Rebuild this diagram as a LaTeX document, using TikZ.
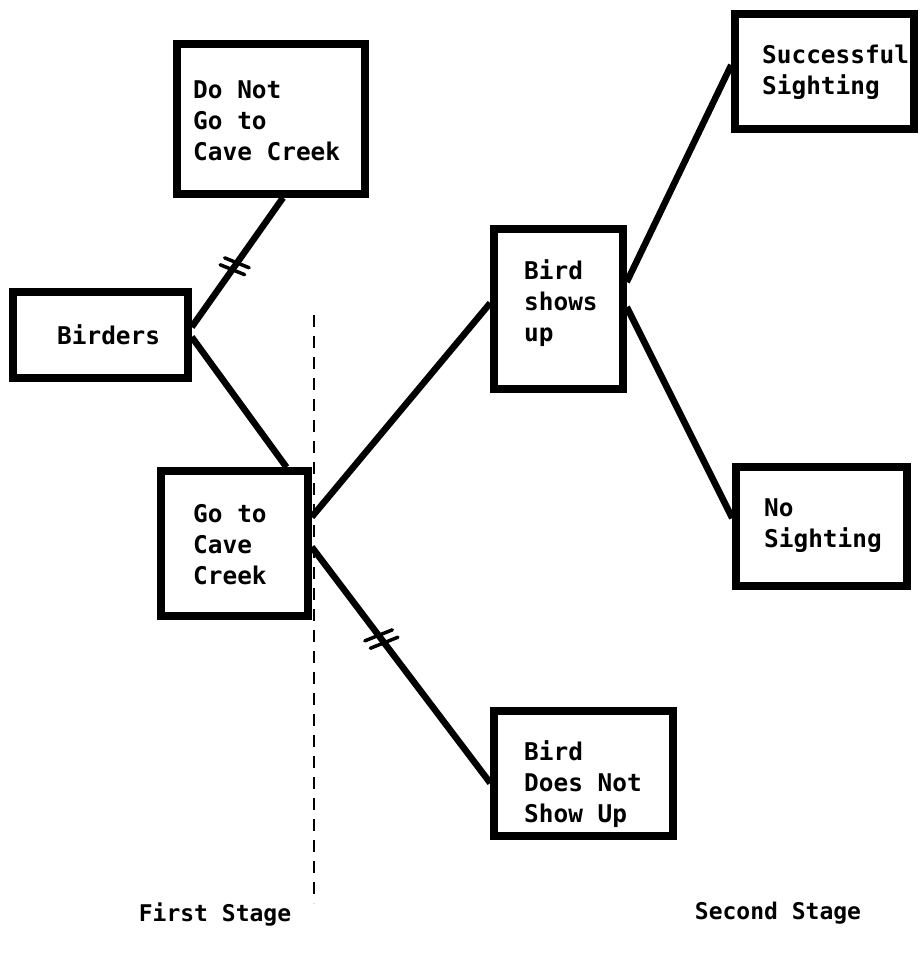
\documentclass[tikz,border=0pt]{standalone}
\usepackage{fontspec}
\newfontfamily\diagfont{DejaVu Sans Mono}
\usetikzlibrary{calc}
\tikzset{
  box/.style={draw, line width=7.5pt, rectangle, inner sep=0pt},
  boxtext/.style={anchor=west, inner sep=0pt, align=left,
    font=\diagfont\bfseries\fontsize{24.4}{31}\selectfont},
  conn/.style={line width=6.5pt},
  hashstroke/.style={line width=3.5pt, line cap=round},
  stagedash/.style={line width=2.5pt, dash pattern=on 12pt off 9pt},
  stagelabel/.style={anchor=base, inner sep=0pt, font=\diagfont\bfseries\fontsize{23}{28}\selectfont}
}
\begin{document}
\begin{tikzpicture}[x=1pt,y=-1pt]
\useasboundingbox (0,0) rectangle (921,956);
% boxes (centre, stroke-centre size)
\node[box, minimum width=188pt, minimum height=150pt] (donot) at (271,119) {};
\node[box, minimum width=175pt, minimum height=86pt] (birders) at (100.5,335) {};
\node[box, minimum width=147pt, minimum height=145pt] (gocc) at (234.5,543.5) {};
\node[box, minimum width=129pt, minimum height=160pt] (shows) at (558.5,309) {};
\node[box, minimum width=179pt, minimum height=115pt] (succ) at (824.5,71.5) {};
\node[box, minimum width=171pt, minimum height=119pt] (nosight) at (821.5,526.5) {};
\node[box, minimum width=179pt, minimum height=125pt] (bdns) at (583.5,773.5) {};
% box texts
\node[boxtext] (donot-t) at (193,121) {Do Not\\Go to\\Cave Creek};
\node[boxtext] (birders-t) at (57,335) {Birders};
\node[boxtext] (gocc-t) at (193,545) {Go to\\Cave\\Creek};
\node[boxtext] (shows-t) at (524,303) {Bird\\shows\\up};
\node[boxtext] (succ-t) at (762,72) {Successful\\Sighting};
\node[boxtext] (nosight-t) at (764,526) {No\\Sighting};
\node[boxtext] (bdns-t) at (524,784) {Bird\\Does Not\\Show Up};
% connector end points
\coordinate (bA) at ([yshift=8pt]birders.east);
\coordinate (bB) at ([yshift=-2pt]birders.east);
\coordinate (dS) at ([xshift=12pt]donot.south);
\coordinate (gN) at ([xshift=52pt]gocc.north);
\coordinate (gA) at ([yshift=26.5pt]gocc.east);
\coordinate (gB) at ([yshift=-3.5pt]gocc.east);
\coordinate (sW) at ([yshift=6pt]shows.west);
\coordinate (sA) at ([yshift=27pt]shows.east);
\coordinate (sB) at ([yshift=2pt]shows.east);
\coordinate (suW) at ([yshift=6.5pt]succ.west);
\coordinate (nW) at ([yshift=8.5pt]nosight.west);
\coordinate (bdW) at ([yshift=-9.5pt]bdns.west);
% connectors
\draw[conn] (bA) -- (dS) coordinate[pos=0.47] (h1);
\draw[conn] (bB) -- (gN);
\draw[conn] (gA) -- (sW);
\draw[conn] (gB) -- (bdW) coordinate[pos=0.39] (h2);
\draw[conn] (sA) -- (suW);
\draw[conn] (sB) -- (nW);
% hash marks
\draw[hashstroke] ([shift={(-10,-8.4)}]h1) -- ([shift={(14.5,1.5)}]h1);
\draw[hashstroke] ([shift={(-14.5,-1.5)}]h1) -- ([shift={(10,8.4)}]h1);
\draw[hashstroke] ([shift={(-16.5,1.8)}]h2) -- ([shift={(11,-9.2)}]h2);
\draw[hashstroke] ([shift={(-11,9.2)}]h2) -- ([shift={(16.5,-1.8)}]h2);
% stage divider
\coordinate (d1) at (314,315);
\coordinate (d2) at (314,903);
\draw[stagedash] (d1) -- (d2);
% stage labels
\node[stagelabel] (first) at (215,921) {First Stage};
\node[stagelabel] (second) at (778,919) {Second Stage};
\end{tikzpicture}
\end{document}
